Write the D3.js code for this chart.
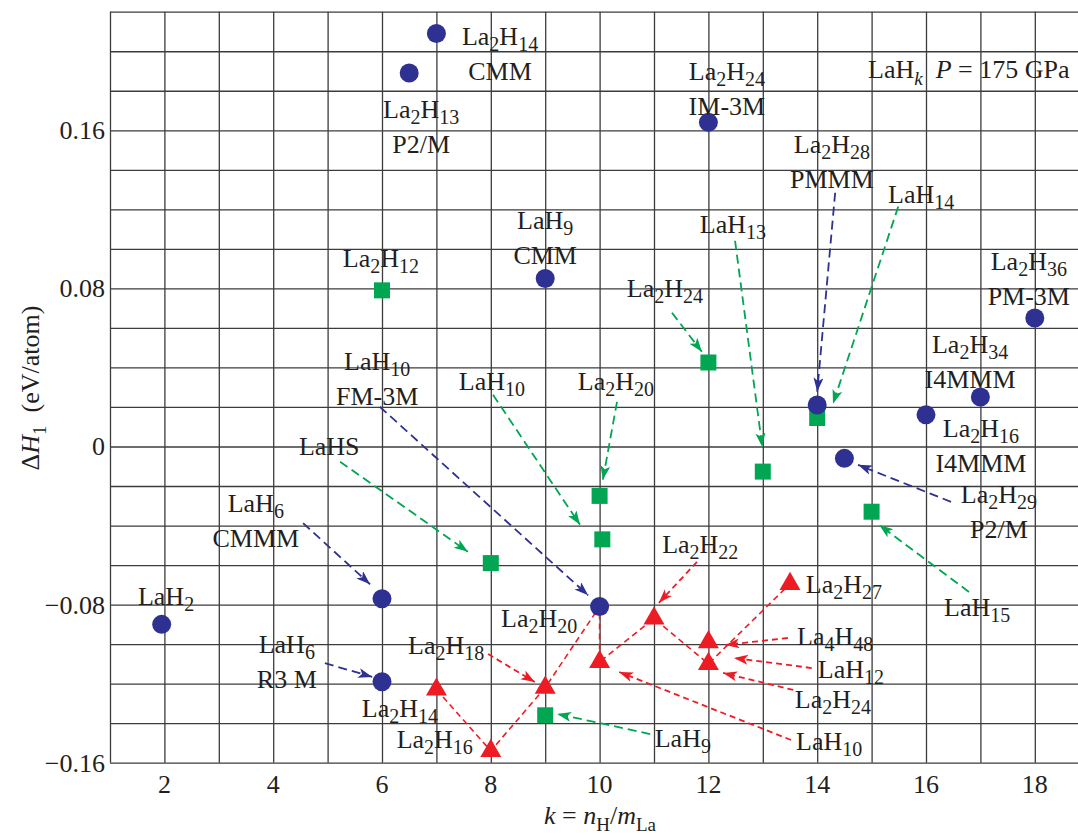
<!DOCTYPE html>
<html>
<head>
<meta charset="utf-8">
<script src="https://cdn.jsdelivr.net/npm/d3@7"></script>
<style>
body{margin:0;background:#fff}
text{font-family:"Liberation Serif","Times New Roman",serif;fill:#231f20}
</style>
</head>
<body>
<svg id="chart"></svg>
<script>
// phases: [k, dH (eV/atom)]
var bluePhases = [[7,0.209],[6.5,0.189],[12,0.164],[9,0.085],[1.95,-0.090],[6,-0.077],[6,-0.119],
                  [10,-0.081],[14,0.021],[14.5,-0.006],[16,0.016],[17,0.025],[18,0.065]];
var greenPhases = [[6,0.079],[12,0.0425],[10,-0.025],[10.05,-0.047],[8,-0.059],[13,-0.0127],
                   [14,0.0144],[15,-0.033],[9,-0.136]];
var redPhases = [[7,-0.123],[8,-0.154],[9,-0.122],[10,-0.109],[11,-0.087],[12,-0.099],[12,-0.110],[13.5,-0.0695]];
// red dashed hull line
var hullLine = [[7,-0.123],[8,-0.154],[9,-0.122],[10,-0.081],[10,-0.109],[11,-0.087],[12,-0.110],[13.5,-0.0695]];

var xTicks = [2,4,6,8,10,12,14,16,18];
var yTicks = [0.16,0.08,0,-0.08,-0.16];

// annotations: text lines, anchor (k, dH)
var blueLabels = [
  {lines:["La2H14","CMM"], k:8.17, dH:0.2034},
  {lines:["La2H13","P2/M"], k:6.72, dH:0.1664},
  {lines:["La2H24","IM-3M"], k:12.34, dH:0.1852},
  {lines:["LaH9","CMM"], k:9.0, dH:0.1098},
  {lines:["LaH10","FM-3M"], k:5.91, dH:0.0388},
  {lines:["LaH6","CMMM"], k:3.68, dH:-0.0331},
  {lines:["LaH2"], k:2.03, dH:-0.0801},
  {lines:["LaH6","R3 M"], k:4.25, dH:-0.1045},
  {lines:["La2H28","PMMM"], k:14.27, dH:0.1487},
  {lines:["La2H34","I4MMM"], k:16.81, dH:0.0474},
  {lines:["La2H16","I4MMM"], k:17.01, dH:0.0049},
  {lines:["La2H29","P2/M"], k:17.34, dH:-0.0285},
  {lines:["La2H36","PM-3M"], k:17.89, dH:0.0895}
];
var greenLabels = [
  {lines:["La2H12"], k:5.98, dH:0.0910},
  {lines:["LaH13"], k:12.45, dH:0.1082},
  {lines:["LaH14"], k:15.91, dH:0.1234},
  {lines:["La2H24"], k:11.2, dH:0.0758},
  {lines:["LaH10"], k:8.02, dH:0.0287},
  {lines:["La2H20"], k:10.3, dH:0.0287},
  {lines:["LaHS"], k:5.03, dH:-0.0042},
  {lines:["LaH15"], k:16.94, dH:-0.0857},
  {lines:["LaH9"], k:11.53, dH:-0.152}
];
var redLabels = [
  {lines:["La2H22"], k:11.85, dH:-0.0538},
  {lines:["La2H20"], k:8.89, dH:-0.0913},
  {lines:["La2H18"], k:7.18, dH:-0.105},
  {lines:["La2H14"], k:6.33, dH:-0.1369},
  {lines:["La2H16"], k:6.97, dH:-0.1526},
  {lines:["La2H27"], k:14.49, dH:-0.0741},
  {lines:["La4H48"], k:14.33, dH:-0.1005},
  {lines:["LaH12"], k:14.62, dH:-0.1172},
  {lines:["La2H24"], k:14.29, dH:-0.1323},
  {lines:["LaH10"], k:14.22, dH:-0.1536}
];

// arrows: [k0, dH0, k1, dH1]
var blueArrows = [[5.96,0.0201,9.79,-0.0753],[4.55,-0.0388,5.78,-0.0697],[4.95,-0.1096,5.82,-0.1166],
                  [14.33,0.1284,14.0,0.0277],[16.46,-0.028,14.75,-0.0093]];
var greenArrows = [[8.04,0.0262,9.64,-0.0396],[10.32,0.0226,10.06,-0.0168],[11.33,0.0677,11.88,0.0479],
                   [5.23,-0.0077,7.58,-0.0533],[12.49,0.1041,12.99,-0.0002],[15.49,0.1214,14.29,0.0216],
                   [16.79,-0.0736,15.14,-0.0397],[10.93,-0.1455,9.22,-0.1353]];
var redArrows = [[11.79,-0.0584,11.09,-0.0791],[7.95,-0.1050,8.81,-0.1192],[13.46,-0.0969,12.31,-0.1004],
                 [13.90,-0.1121,12.47,-0.107],[13.56,-0.1232,12.27,-0.1146],[13.52,-0.1485,10.36,-0.1141]];

var blue = "#2e3192", green = "#00a651", red = "#ed1c24";

var svg = d3.select("#chart").attr("width",1078).attr("height",835);

var x = d3.scaleLinear().domain([1,19]).range([110,1089.2]);
var y = d3.scaleLinear().domain([-0.16,0.22]).range([762.7,11.7]);

// grid
var grid = svg.append("g");
grid.append("g")
  .attr("transform","translate(0,"+y(-0.16)+")")
  .call(d3.axisBottom(x).tickValues(d3.range(1,19)).tickSize(-(y(-0.16)-y(0.22))).tickFormat(""))
  .call(function(g){g.select(".domain").remove();});
grid.append("g")
  .attr("transform","translate("+x(1)+",0)")
  .call(d3.axisLeft(y).tickValues(d3.range(-8,12).map(function(i){return i*0.02;}))
        .tickSize(-(1078-x(1))).tickFormat(""))
  .call(function(g){g.select(".domain").remove();});
grid.selectAll("line").attr("stroke","#3c3c3c").attr("stroke-width",1.3);

// tick labels
svg.append("g").selectAll("text").data(xTicks).enter().append("text")
  .attr("x",function(d){return x(d);}).attr("y",793)
  .attr("text-anchor","middle").style("font-size","26px")
  .text(function(d){return d;});
svg.append("g").selectAll("text").data(yTicks).enter().append("text")
  .attr("x",105).attr("y",function(d){return y(d)+9;})
  .attr("text-anchor","end").style("font-size","26px")
  .text(function(d){return d===0 ? "0" : (d<0 ? "\u2212"+(-d).toFixed(2) : d.toFixed(2));});

// axis titles
var xt = svg.append("text").attr("x",600).attr("y",824).attr("text-anchor","middle").style("font-size","26px");
xt.append("tspan").style("font-style","italic").text("k");
xt.append("tspan").text(" = ");
xt.append("tspan").style("font-style","italic").text("n");
xt.append("tspan").attr("dy",7).style("font-size","19px").text("H");
xt.append("tspan").attr("dy",-7).text("/");
xt.append("tspan").style("font-style","italic").text("m");
xt.append("tspan").attr("dy",7).style("font-size","19px").text("La");

var yt = svg.append("text").attr("transform","translate(39,388) rotate(-90)")
  .attr("text-anchor","middle").style("font-size","26px");
yt.append("tspan").text("\u0394");
yt.append("tspan").style("font-style","italic").text("H");
yt.append("tspan").attr("dy",7).style("font-size","19px").text("1");
yt.append("tspan").attr("dy",-7).text("\u00a0 (eV/atom)");

var note = svg.append("text").attr("x",868).attr("y",78).style("font-size","26px");
note.append("tspan").text("LaH");
note.append("tspan").attr("dy",7).style("font-size","19px").style("font-style","italic").text("k");
note.append("tspan").attr("dy",-7).text("\u00a0 ");
note.append("tspan").style("font-style","italic").text("P");
note.append("tspan").text(" = 175 GPa");

// arrow markers
var defs = svg.append("defs");
[["b",blue],["g",green],["r",red]].forEach(function(m){
  defs.append("marker").attr("id","arr-"+m[0])
    .attr("markerUnits","userSpaceOnUse")
    .attr("markerWidth",16).attr("markerHeight",12)
    .attr("refX",14).attr("refY",5).attr("orient","auto")
    .append("path").attr("d","M0,0 L14,5 L0,10 L3.5,5 Z").attr("fill",m[1]);
});

// hull line
var line = d3.line().x(function(d){return x(d[0]);}).y(function(d){return y(d[1]);});
svg.append("path").datum(hullLine).attr("d",line)
  .attr("fill","none").attr("stroke",red).attr("stroke-width",1.6).attr("stroke-dasharray","6,4");

var drawArrows = function(data,color,id,dash)
{
  svg.append("g").selectAll("line").data(data).enter().append("line")
    .attr("x1",function(d){return x(d[0]);}).attr("y1",function(d){return y(d[1]);})
    .attr("x2",function(d){return x(d[2]);}).attr("y2",function(d){return y(d[3]);})
    .attr("stroke",color).attr("stroke-width",1.8).attr("stroke-dasharray",dash)
    .attr("marker-end","url(#arr-"+id+")");
}
drawArrows(blueArrows,blue,"b","9,5");
drawArrows(greenArrows,green,"g","9,5");
drawArrows(redArrows,red,"r","6,4");

// points
svg.append("g").selectAll("path").data(greenPhases).enter().append("path")
  .attr("transform",function(d){return "translate("+x(d[0])+","+y(d[1])+")";})
  .attr("d",d3.symbol(d3.symbolSquare,256)).attr("fill",green);
svg.append("g").selectAll("path").data(redPhases).enter().append("path")
  .attr("transform",function(d){return "translate("+x(d[0])+","+y(d[1])+")";})
  .attr("d",d3.symbol(d3.symbolTriangle,190)).attr("fill",red);
svg.append("g").selectAll("circle").data(bluePhases).enter().append("circle")
  .attr("cx",function(d){return x(d[0]);}).attr("cy",function(d){return y(d[1]);})
  .attr("r",9.5).attr("fill",blue);

// labels with subscripts
var formula = function(sel,str)
{
  var parts = str.match(/[A-Za-z]+|\d+/g);
  var low = false;
  parts.forEach(function(p){
    var isNum = /^\d+$/.test(p);
    var t = sel.append("tspan").text(p);
    if(isNum && !low){ t.attr("dy",6).style("font-size","20px"); low = true; }
    else if(isNum){ t.style("font-size","20px"); }
    else if(low){ t.attr("dy",-6); low = false; }
  });
}
var drawLabels = function(data)
{
  data.forEach(function(l){
    l.lines.forEach(function(s,i){
      var t = svg.append("text").attr("x",x(l.k)).attr("y",y(l.dH)+i*35)
        .attr("text-anchor","middle").style("font-size","26px");
      if(i===0){ formula(t,s); } else { t.text(s); }
    });
  });
}
drawLabels(blueLabels);
drawLabels(greenLabels);
drawLabels(redLabels);
</script>
</body>
</html>
